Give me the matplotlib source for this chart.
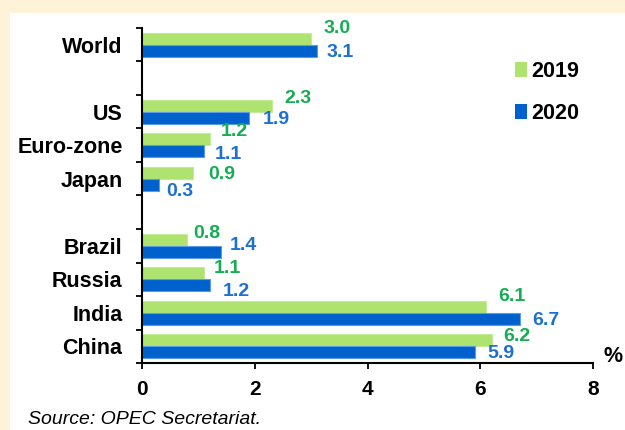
import numpy as np
import matplotlib
matplotlib.use("Agg")
import matplotlib.pyplot as plt
from matplotlib.patches import Rectangle, Patch

plt.rcParams["font.family"] = ["Liberation Sans", "DejaVu Sans"]
plt.rcParams["font.weight"] = "bold"

# data (GDP growth, %)
categories = ["World", "US", "Euro-zone", "Japan", "Brazil", "Russia", "India", "China"]
group = [0, 1, 1, 1, 2, 2, 2, 2]   # a blank row is left between groups
vals_2019 = [3.0, 2.3, 1.2, 0.9, 0.8, 1.1, 6.1, 6.2]
vals_2020 = [3.1, 1.9, 1.1, 0.3, 1.4, 1.2, 6.7, 5.9]
years = ["2019", "2020"]
x_ticks = [0, 2, 4, 6, 8]

# data label placement (pixels, relative to the bar end / bar centre)
lbl_dx_2019 = [26, 26, 25, 29, 20, 23, 26, 25]
lbl_dy_2019 = [12, 9, 9, 0, 8, 6, 12, 5]
lbl_dx_2020 = [23, 27, 24, 21, 22, 27, 26, 26]
lbl_dy_2020 = [0, 0, -2, -5, 8, -5, 0, 0]

green = "#AEE36F"
blue = "#0061CD"
green_txt = "#14AE52"
blue_txt = "#1C70D2"

pos = np.arange(len(categories)) + np.array(group)
n_rows = len(categories) + max(group)
h = 0.36
px = 72 / 100  # pixels -> points

fig = plt.figure(figsize=(6.25, 4.3), dpi=100, facecolor="#FEF3D9")
# white panel
fig.patches.append(Rectangle((10 / 625, 0), 1 - 10 / 625, 1 - 13 / 430,
                             transform=fig.transFigure, facecolor="white",
                             edgecolor="none", zorder=-10))

ax = fig.add_axes([142 / 625, 1 - 363 / 430, 451 / 625, 335 / 430])
ax.set_facecolor("none")

ax.barh(pos - h / 2, vals_2019, height=h, color=green, edgecolor="#C4EC97", linewidth=0.8)
ax.barh(pos + h / 2, vals_2020, height=h, color=blue, edgecolor="#5A9AE6", linewidth=0.8)

# value labels
for i, p in enumerate(pos):
    ax.annotate(f"{vals_2019[i]:.1f}", (vals_2019[i], p - h / 2),
                xytext=(lbl_dx_2019[i] * px, (lbl_dy_2019[i] - 1.5) * px), textcoords="offset points",
                ha="center", va="center", color=green_txt, fontsize=14, fontweight="bold")
    ax.annotate(f"{vals_2020[i]:.1f}", (vals_2020[i], p + h / 2),
                xytext=(lbl_dx_2020[i] * px, (lbl_dy_2020[i] - 1.5) * px), textcoords="offset points",
                ha="center", va="center", color=blue_txt, fontsize=14, fontweight="bold")

ax.set_xlim(0, 8)
ax.set_ylim(n_rows - 0.5, -0.5)
ax.set_xticks(x_ticks)
ax.set_xticklabels([str(t) for t in x_ticks], fontsize=15, fontweight="bold")
ax.set_yticks(pos)
ax.set_yticklabels(categories, fontsize=15.5, fontweight="bold")
ax.set_yticks(np.arange(n_rows + 1) - 0.5, minor=True)
ax.tick_params(axis="y", which="major", length=0, pad=14)
ax.tick_params(axis="y", which="minor", length=4.5, width=1.3, direction="out")
ax.tick_params(axis="x", which="major", length=4.5, width=1.3, direction="out", pad=8)

for s in ["top", "right"]:
    ax.spines[s].set_visible(False)
for s in ["left", "bottom"]:
    ax.spines[s].set_linewidth(1.5)

handles = [Patch(facecolor=green), Patch(facecolor=blue)]
fig.legend(handles, years, loc="upper left", bbox_to_anchor=(496 / 625, 1 - 42 / 430),
           frameon=False, handlelength=0.56, handleheight=0.7,
           handletextpad=0.2, labelspacing=0.95, prop={"weight": "bold", "size": 15.5})

fig.text(613 / 625, 1 - 357 / 430, "%", ha="center", va="center", fontsize=15.5, fontweight="bold")
fig.text(28 / 625, 1 - 420 / 430, "Source: OPEC Secretariat.", ha="left", va="center",
         fontsize=14, fontstyle="italic", fontweight="normal")

fig.savefig("out.png", dpi=100, facecolor=fig.get_facecolor())
